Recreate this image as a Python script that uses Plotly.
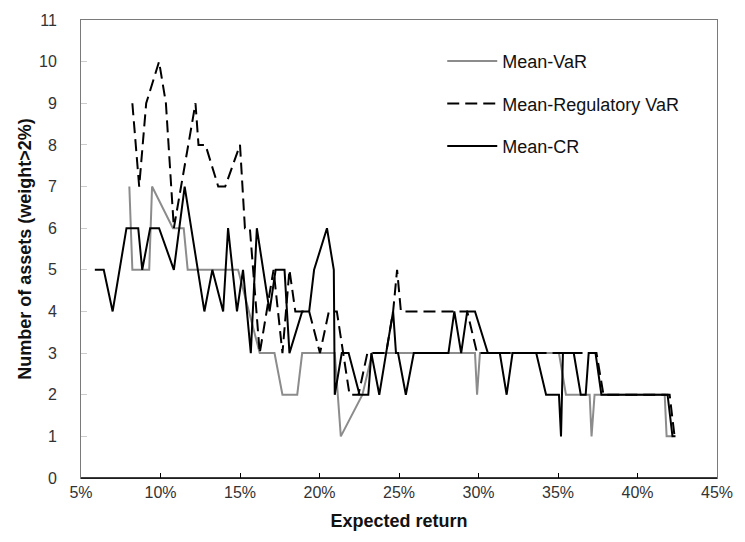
import plotly.graph_objects as go

# Expected return (fraction) and number of assets with weight > 2%
var_ret = [0.0804, 0.0823, 0.0929, 0.0947, 0.1078, 0.1146, 0.1171, 0.1488, 0.1624,
           0.1717, 0.1767, 0.1860, 0.1891, 0.2096, 0.2134, 0.2270, 0.2332, 0.2978,
           0.2991, 0.3009, 0.3506, 0.3550, 0.3699, 0.3711, 0.3730, 0.4171, 0.4183, 0.4220]
var_n = [7, 5, 5, 7, 6, 6, 5, 5, 3, 3, 2, 2, 3, 3, 1, 2, 3, 3, 2, 3, 3, 2, 2, 1, 2, 2, 1, 1]

reg_ret = [0.0823, 0.0866, 0.0910, 0.0991, 0.1034, 0.1084, 0.1220, 0.1239, 0.1283,
           0.1363, 0.1407, 0.1500, 0.1531, 0.1562, 0.1624, 0.1711, 0.1767, 0.1811,
           0.1848, 0.1935, 0.2003, 0.2059, 0.2109, 0.2189, 0.2245, 0.2301, 0.2419,
           0.2463, 0.2488, 0.2512, 0.2929, 0.2991, 0.3742, 0.3786, 0.4202, 0.4233]
reg_n = [9, 7, 9, 10, 9, 6, 9, 8, 8, 7, 7, 8, 6, 6, 3, 5, 3, 5, 4, 4, 3, 4, 4, 2, 2,
         3, 3, 4, 5, 4, 4, 3, 3, 2, 2, 1]

cr_ret = [0.0587, 0.0643, 0.0699, 0.0786, 0.0860, 0.0885, 0.0935, 0.0991, 0.1084,
          0.1152, 0.1276, 0.1326, 0.1394, 0.1425, 0.1481, 0.1519, 0.1568, 0.1606,
          0.1686, 0.1724, 0.1780, 0.1811, 0.1891, 0.1935, 0.1966, 0.2047, 0.2090,
          0.2096, 0.2140, 0.2183, 0.2252, 0.2307, 0.2326, 0.2376, 0.2419, 0.2463,
          0.2481, 0.2494, 0.2543, 0.2593, 0.2811, 0.2848, 0.2891, 0.2929, 0.2978,
          0.3059, 0.3134, 0.3177, 0.3214, 0.3363, 0.3425, 0.3506, 0.3519, 0.3531,
          0.3599, 0.3643, 0.3674, 0.3693, 0.3736, 0.3773, 0.4189, 0.4220, 0.4239]
cr_n = [5, 5, 4, 6, 6, 5, 6, 6, 5, 7, 4, 5, 4, 6, 4, 5, 3, 6, 4, 5, 5, 3, 4, 4, 5,
        6, 5, 2, 3, 3, 2, 2, 3, 2, 3, 4, 3, 3, 2, 3, 3, 4, 3, 4, 4, 3, 3, 2, 3, 3,
        2, 2, 1, 3, 3, 2, 2, 3, 3, 2, 2, 1, 1]

x_ticks = [0.05, 0.10, 0.15, 0.20, 0.25, 0.30, 0.35, 0.40, 0.45]
y_ticks = list(range(0, 12))

fig = go.Figure()
fig.add_trace(go.Scatter(x=var_ret, y=var_n, mode="lines", name="Mean-VaR",
                         legendgroup="a",
                         line=dict(color="#8c8c8c", width=2)))
fig.add_trace(go.Scatter(x=reg_ret, y=reg_n, mode="lines", name="Mean-Regulatory VaR",
                         legendgroup="b",
                         line=dict(color="#000000", width=2, dash="12px,6px")))
fig.add_trace(go.Scatter(x=cr_ret, y=cr_n, mode="lines", name="Mean-CR",
                         legendgroup="c",
                         line=dict(color="#000000", width=2)))

font_family = "Liberation Sans, Arial, sans-serif"

fig.update_layout(
    width=745, height=542,
    margin=dict(l=81, r=20, t=20, b=64),
    paper_bgcolor="white", plot_bgcolor="white",
    font=dict(family=font_family, size=15, color="#333333"),
    showlegend=True,
    legend=dict(x=0.568, y=0.95, xanchor="left", yanchor="top",
                bgcolor="rgba(0,0,0,0)", font=dict(size=18, color="#111111"),
                tracegroupgap=16, itemwidth=50, traceorder="grouped"),
    xaxis=dict(range=[0.05, 0.45], tickvals=x_ticks, tickformat=".0%",
               showgrid=False, zeroline=False,
               showline=True, linecolor="#7a7a7a", linewidth=1, mirror=True,
               ticks="inside", ticklen=5, tickcolor="#000000",
               tickfont=dict(size=16, color="#333333"),
               title=dict(text="<b>Expected return</b>", font=dict(size=18, color="#111111"),
                          standoff=14)),
    yaxis=dict(range=[0, 11], tickvals=y_ticks,
               showgrid=False, zeroline=False,
               showline=True, linecolor="#7a7a7a", linewidth=1, mirror=True,
               ticks="inside", ticklen=6, tickcolor="#cccccc",
               ticklabelstandoff=20,
               tickfont=dict(size=16, color="#333333"),
               title=dict(text="<b>Number of assets (weight>2%)</b>",
                          font=dict(size=18, color="#111111"), standoff=2)),
)
# bottom axis line drawn in black
fig.add_shape(type="line", xref="paper", yref="paper", x0=0, x1=1, y0=0, y1=0,
              line=dict(color="#000000", width=1.5))

fig.write_html("out.html")
